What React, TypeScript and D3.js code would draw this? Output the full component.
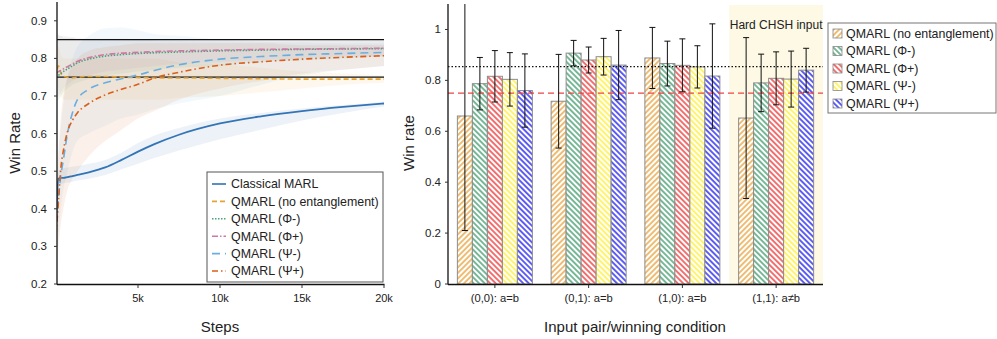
import React from "react";
import * as d3 from "d3";

// ---------- Left chart data ----------
const STEPS = [0, 150, 300, 450, 700, 1000, 1300, 2000, 3000, 4000, 5000, 6000, 7500, 10000, 12500, 15000, 17500, 20000];

const SERIES_NAMES = ["Classical MARL", "QMARL (no entanglement)", "QMARL (Φ-)", "QMARL (Φ+)", "QMARL (Ψ-)", "QMARL (Ψ+)"];

const classicalMean = [0.36, 0.48, 0.482, 0.482, 0.484, 0.487, 0.49, 0.497, 0.51, 0.53, 0.552, 0.572, 0.597, 0.627, 0.646, 0.66, 0.671, 0.68];
const classicalLo = [0.3, 0.46, 0.465, 0.468, 0.47, 0.472, 0.475, 0.48, 0.49, 0.505, 0.52, 0.535, 0.555, 0.585, 0.61, 0.635, 0.655, 0.672];
const classicalHi = [0.42, 0.5, 0.505, 0.508, 0.51, 0.512, 0.514, 0.52, 0.53, 0.55, 0.575, 0.595, 0.615, 0.64, 0.655, 0.667, 0.676, 0.685];

const noEntMean = [0.75, 0.78, 0.76, 0.752, 0.75, 0.748, 0.75, 0.752, 0.752, 0.75, 0.749, 0.748, 0.748, 0.747, 0.746, 0.745, 0.745, 0.745];
const noEntLo = [0.7, 0.72, 0.7, 0.69, 0.69, 0.69, 0.69, 0.69, 0.69, 0.69, 0.69, 0.69, 0.695, 0.7, 0.71, 0.72, 0.73, 0.735];
const noEntHi = [0.8, 0.83, 0.81, 0.8, 0.8, 0.8, 0.8, 0.8, 0.8, 0.8, 0.8, 0.8, 0.79, 0.785, 0.775, 0.765, 0.76, 0.755];

const phiMinusMean = [0.75, 0.755, 0.76, 0.765, 0.772, 0.78, 0.788, 0.798, 0.806, 0.81, 0.813, 0.815, 0.817, 0.82, 0.822, 0.824, 0.825, 0.826];
const phiMinusLo = [0.68, 0.69, 0.7, 0.71, 0.72, 0.73, 0.735, 0.745, 0.755, 0.76, 0.765, 0.77, 0.775, 0.78, 0.79, 0.795, 0.8, 0.805];
const phiMinusHi = [0.86, 0.86, 0.86, 0.855, 0.855, 0.855, 0.85, 0.85, 0.85, 0.85, 0.85, 0.848, 0.846, 0.845, 0.845, 0.846, 0.848, 0.848];

const phiPlusMean = [0.76, 0.765, 0.768, 0.772, 0.778, 0.785, 0.792, 0.802, 0.81, 0.814, 0.816, 0.818, 0.82, 0.822, 0.824, 0.825, 0.826, 0.827];
const phiPlusLo = [0.69, 0.7, 0.71, 0.72, 0.73, 0.74, 0.745, 0.755, 0.765, 0.77, 0.775, 0.78, 0.785, 0.79, 0.795, 0.8, 0.805, 0.806];
const phiPlusHi = [0.87, 0.865, 0.86, 0.86, 0.858, 0.856, 0.855, 0.853, 0.852, 0.852, 0.851, 0.85, 0.849, 0.848, 0.848, 0.848, 0.848, 0.848];

const psiMinusMean = [0.33, 0.43, 0.49, 0.53, 0.6, 0.655, 0.69, 0.718, 0.735, 0.746, 0.756, 0.768, 0.783, 0.798, 0.805, 0.81, 0.813, 0.816];
const psiMinusLo = [0.25, 0.33, 0.4, 0.45, 0.5, 0.55, 0.58, 0.6, 0.62, 0.64, 0.65, 0.665, 0.68, 0.7, 0.73, 0.755, 0.77, 0.78];
const psiMinusHi = [0.45, 0.55, 0.62, 0.68, 0.75, 0.8, 0.83, 0.86, 0.88, 0.882, 0.875, 0.865, 0.86, 0.85, 0.845, 0.842, 0.84, 0.84];

const psiPlusMean = [0.33, 0.42, 0.51, 0.555, 0.605, 0.635, 0.655, 0.68, 0.703, 0.718, 0.731, 0.748, 0.763, 0.782, 0.791, 0.798, 0.803, 0.807];
const psiPlusLo = [0.22, 0.3, 0.36, 0.4, 0.45, 0.48, 0.5, 0.54, 0.58, 0.61, 0.64, 0.66, 0.69, 0.72, 0.74, 0.76, 0.77, 0.78];
const psiPlusHi = [0.44, 0.55, 0.65, 0.7, 0.75, 0.78, 0.8, 0.82, 0.83, 0.835, 0.84, 0.84, 0.84, 0.84, 0.84, 0.835, 0.835, 0.835];

const LINE_COLORS = ["#3274b5", "#e6a532", "#4aa37a", "#cc79a7", "#6aaee0", "#d95f1a"];
const LINE_DASHES = ["", "5,3", "1.5,1.5", "6,2,1.5,2", "8,5", "6,3,1.5,3"];

const LEFT_Y_TICKS = [0.2, 0.3, 0.4, 0.5, 0.6, 0.7, 0.8, 0.9];
const LEFT_X_TICKS = [5000, 10000, 15000, 20000];
const LEFT_REF_LINES = [0.85, 0.75];

// ---------- Right chart data ----------
const CATEGORIES = ["(0,0): a=b", "(0,1): a=b", "(1,0): a=b", "(1,1): a≠b"];
const BAR_SERIES = ["QMARL (no entanglement)", "QMARL (Φ-)", "QMARL (Φ+)", "QMARL (Ψ-)", "QMARL (Ψ+)"];
const noEntBars = [0.66, 0.718, 0.888, 0.652];
const phiMinusBars = [0.787, 0.907, 0.866, 0.79];
const phiPlusBars = [0.816, 0.88, 0.859, 0.808];
const psiMinusBars = [0.804, 0.893, 0.853, 0.805];
const psiPlusBars = [0.76, 0.86, 0.817, 0.84];
const noEntErr = [0.45, 0.184, 0.12, 0.316];
const phiMinusErr = [0.103, 0.05, 0.088, 0.113];
const phiPlusErr = [0.101, 0.051, 0.104, 0.104];
const psiMinusErr = [0.105, 0.072, 0.083, 0.11];
const psiPlusErr = [0.144, 0.136, 0.205, 0.086];
const BAR_COLORS = ["#e8a23a", "#3f9a6c", "#ee3535", "#fff02a", "#1c1cf0"];
const HATCH_DIR = ["/", "\\", "\\", "\\", "\\"];
const RIGHT_Y_TICKS = [0, 0.2, 0.4, 0.6, 0.8, 1];
const CLASSICAL_BOUND = 0.75;
const QUANTUM_BOUND = 0.8536;

const FONT = "'Liberation Sans', Arial, Helvetica, sans-serif";

export default function App() {
  // Left chart scales
  const lx = d3.scaleLinear().domain([0, 20000]).range([56, 384]);
  const ly = d3.scaleLinear().domain([0.2, 0.95]).range([284, 2]);
  const lx0 = 57;

  const means = [classicalMean, noEntMean, phiMinusMean, phiPlusMean, psiMinusMean, psiPlusMean];
  const los = [classicalLo, noEntLo, phiMinusLo, phiPlusLo, psiMinusLo, psiPlusLo];
  const his = [classicalHi, noEntHi, phiMinusHi, phiPlusHi, psiMinusHi, psiPlusHi];

  const line = d3
    .line<number>()
    .x((_, i) => lx(STEPS[i]))
    .y((d) => ly(d))
    .curve(d3.curveMonotoneX);
  const area = (lo: number[], hi: number[]) =>
    d3
      .area<number>()
      .x((_, i) => lx(STEPS[i]))
      .y0((_, i) => ly(lo[i]))
      .y1((_, i) => ly(hi[i]))
      .curve(d3.curveMonotoneX)(lo);

  // Right chart scales
  const rx = d3.scaleBand<string>().domain(CATEGORIES).range([448, 823]).paddingInner(0.2).paddingOuter(0.1);
  const sub = d3.scaleBand<string>().domain(BAR_SERIES).range([0, rx.bandwidth()]);
  const ry = d3.scaleLinear().domain([0, 1.1]).range([284, 4]);
  const barVals = [noEntBars, phiMinusBars, phiPlusBars, psiMinusBars, psiPlusBars];
  const barErrs = [noEntErr, phiMinusErr, phiPlusErr, psiMinusErr, psiPlusErr];
  const hardStart = 448 + rx.step() * 3;
  const HP = 3.9;

  return (
    <svg width={997} height={339} style={{ position: "absolute", left: 0, top: 0, fontFamily: FONT }}>
      <defs>
        {BAR_COLORS.map((c, i) => (
          <pattern
            key={i}
            id={`hatch${i}`}
            patternUnits="userSpaceOnUse"
            width={HP}
            height={HP}
            patternTransform={HATCH_DIR[i] === "/" ? "rotate(45)" : "rotate(-45)"}
          >
            <rect width={HP} height={HP} fill="white" />
            <line x1={HP / 2} y1={0} x2={HP / 2} y2={HP} stroke={c} strokeWidth={1.4} />
          </pattern>
        ))}
        <clipPath id="leftClip">
          <rect x={lx0} y={2} width={384 - lx0} height={282} />
        </clipPath>
      </defs>

      {/* ---------- LEFT CHART ---------- */}
      <g clipPath="url(#leftClip)">
        {means.map((_, i) => (
          <path key={"a" + i} d={area(los[i], his[i]) || ""} fill={LINE_COLORS[i]} opacity={0.09} />
        ))}
        {LEFT_REF_LINES.map((v) => (
          <line key={v} x1={lx0} x2={384} y1={ly(v)} y2={ly(v)} stroke="#111" strokeWidth={1.2} />
        ))}
        {means.map((m, i) => (
          <path
            key={"l" + i}
            d={line(m) || ""}
            fill="none"
            stroke={LINE_COLORS[i]}
            strokeWidth={i === 0 ? 1.8 : 1.6}
            strokeDasharray={LINE_DASHES[i]}
          />
        ))}
      </g>
      {/* axes */}
      <line x1={lx0} x2={lx0} y1={2} y2={284.5} stroke="#111" strokeWidth={1.3} />
      <line x1={lx0} x2={384.5} y1={284.5} y2={284.5} stroke="#111" strokeWidth={1.3} />
      {LEFT_Y_TICKS.map((t) => (
        <g key={t}>
          <line x1={lx0 - 3} x2={lx0} y1={ly(t)} y2={ly(t)} stroke="#333" />
          <text x={lx0 - 10} y={ly(t)} dy="0.35em" textAnchor="end" fontSize={11.5} fill="#222">
            {d3.format(".1f")(t)}
          </text>
        </g>
      ))}
      {LEFT_X_TICKS.map((t) => (
        <g key={t}>
          <line x1={lx(t)} x2={lx(t)} y1={284.5} y2={288} stroke="#333" />
          <text x={lx(t)} y={302} textAnchor="middle" fontSize={11} fill="#222">
            {`${t / 1000}k`}
          </text>
        </g>
      ))}
      <text transform="translate(20,143) rotate(-90)" textAnchor="middle" fontSize={15} fill="#222">
        Win Rate
      </text>
      <text x={220} y={332} textAnchor="middle" fontSize={15} fill="#222">
        Steps
      </text>
      {/* left legend */}
      <rect x={207} y={172} width={176} height={110} fill="white" stroke="#555" strokeWidth={1} />
      {SERIES_NAMES.map((n, i) => {
        const yy = 184 + i * 17.4;
        return (
          <g key={n}>
            <line x1={212} x2={226} y1={yy} y2={yy} stroke={LINE_COLORS[i]} strokeWidth={1.6} strokeDasharray={LINE_DASHES[i]} />
            <text x={231} y={yy} dy="0.35em" fontSize={12.4} fill="#222">
              {n}
            </text>
          </g>
        );
      })}

      {/* ---------- RIGHT CHART ---------- */}
      <rect x={hardStart} y={5} width={823 - hardStart} height={279} fill="#fdf9e5" />
      <text x={hardStart + rx.step() / 2} y={29} textAnchor="middle" fontSize={12} fill="#222">
        Hard CHSH input
      </text>
      {CATEGORIES.map((c, ci) => (
        <g key={c}>
          {BAR_SERIES.map((s, si) => {
            const x = (rx(c) || 0) + (sub(s) || 0);
            const v = barVals[si][ci];
            return (
              <rect
                key={s}
                x={x}
                y={ry(v)}
                width={sub.bandwidth()}
                height={ry(0) - ry(v)}
                fill={`url(#hatch${si})`}
                stroke="#8c8c8c"
                strokeWidth={1}
              />
            );
          })}
        </g>
      ))}
      <line x1={448} x2={823} y1={ry(QUANTUM_BOUND)} y2={ry(QUANTUM_BOUND)} stroke="#111" strokeWidth={1.2} strokeDasharray="1.5,2" />
      <line x1={448} x2={823} y1={ry(CLASSICAL_BOUND)} y2={ry(CLASSICAL_BOUND)} stroke="#ee4444" strokeWidth={1.2} strokeDasharray="6,4" />
      {CATEGORIES.map((c, ci) => (
        <g key={"e" + c}>
          {BAR_SERIES.map((s, si) => {
            const cx = (rx(c) || 0) + (sub(s) || 0) + sub.bandwidth() / 2;
            const v = barVals[si][ci];
            const e = barErrs[si][ci];
            const top = Math.max(ry(v + e), 4);
            const bot = ry(v - e);
            return (
              <g key={s} stroke="#111" strokeWidth={1}>
                <line x1={cx} x2={cx} y1={top} y2={bot} />
                {ry(v + e) >= 4 && <line x1={cx - 3} x2={cx + 3} y1={top} y2={top} />}
                <line x1={cx - 3} x2={cx + 3} y1={bot} y2={bot} />
              </g>
            );
          })}
        </g>
      ))}
      {/* right axes */}
      <line x1={448} x2={448} y1={4} y2={284.5} stroke="#111" strokeWidth={1.3} />
      <line x1={448} x2={823} y1={284.5} y2={284.5} stroke="#111" strokeWidth={1.3} />
      {RIGHT_Y_TICKS.map((t) => (
        <g key={t}>
          <line x1={445} x2={448} y1={ry(t)} y2={ry(t)} stroke="#333" />
          <text x={441} y={ry(t)} dy="0.35em" textAnchor="end" fontSize={11.5} fill="#222">
            {d3.format("~g")(t)}
          </text>
        </g>
      ))}
      {CATEGORIES.map((c) => {
        const cx = (rx(c) || 0) + rx.bandwidth() / 2;
        return (
          <g key={"t" + c}>
            <line x1={cx} x2={cx} y1={284.5} y2={288} stroke="#333" />
            <text x={cx} y={302} textAnchor="middle" fontSize={11.2} fill="#222">
              {c}
            </text>
          </g>
        );
      })}
      <text transform="translate(414,143) rotate(-90)" textAnchor="middle" fontSize={15} fill="#222">
        Win rate
      </text>
      <text x={635} y={332} textAnchor="middle" fontSize={15} fill="#222">
        Input pair/winning condition
      </text>
      {/* right legend */}
      <rect x={828} y={23} width={168} height={90} fill="white" stroke="#777" strokeWidth={1} />
      {BAR_SERIES.map((s, i) => {
        const yy = 33.5 + i * 17.5;
        return (
          <g key={s}>
            <rect x={833} y={yy - 4.5} width={9} height={9} fill={`url(#hatch${i})`} stroke="#888" strokeWidth={0.8} />
            <text x={846} y={yy} dy="0.35em" fontSize={12.4} fill="#222">
              {s}
            </text>
          </g>
        );
      })}
    </svg>
  );
}
